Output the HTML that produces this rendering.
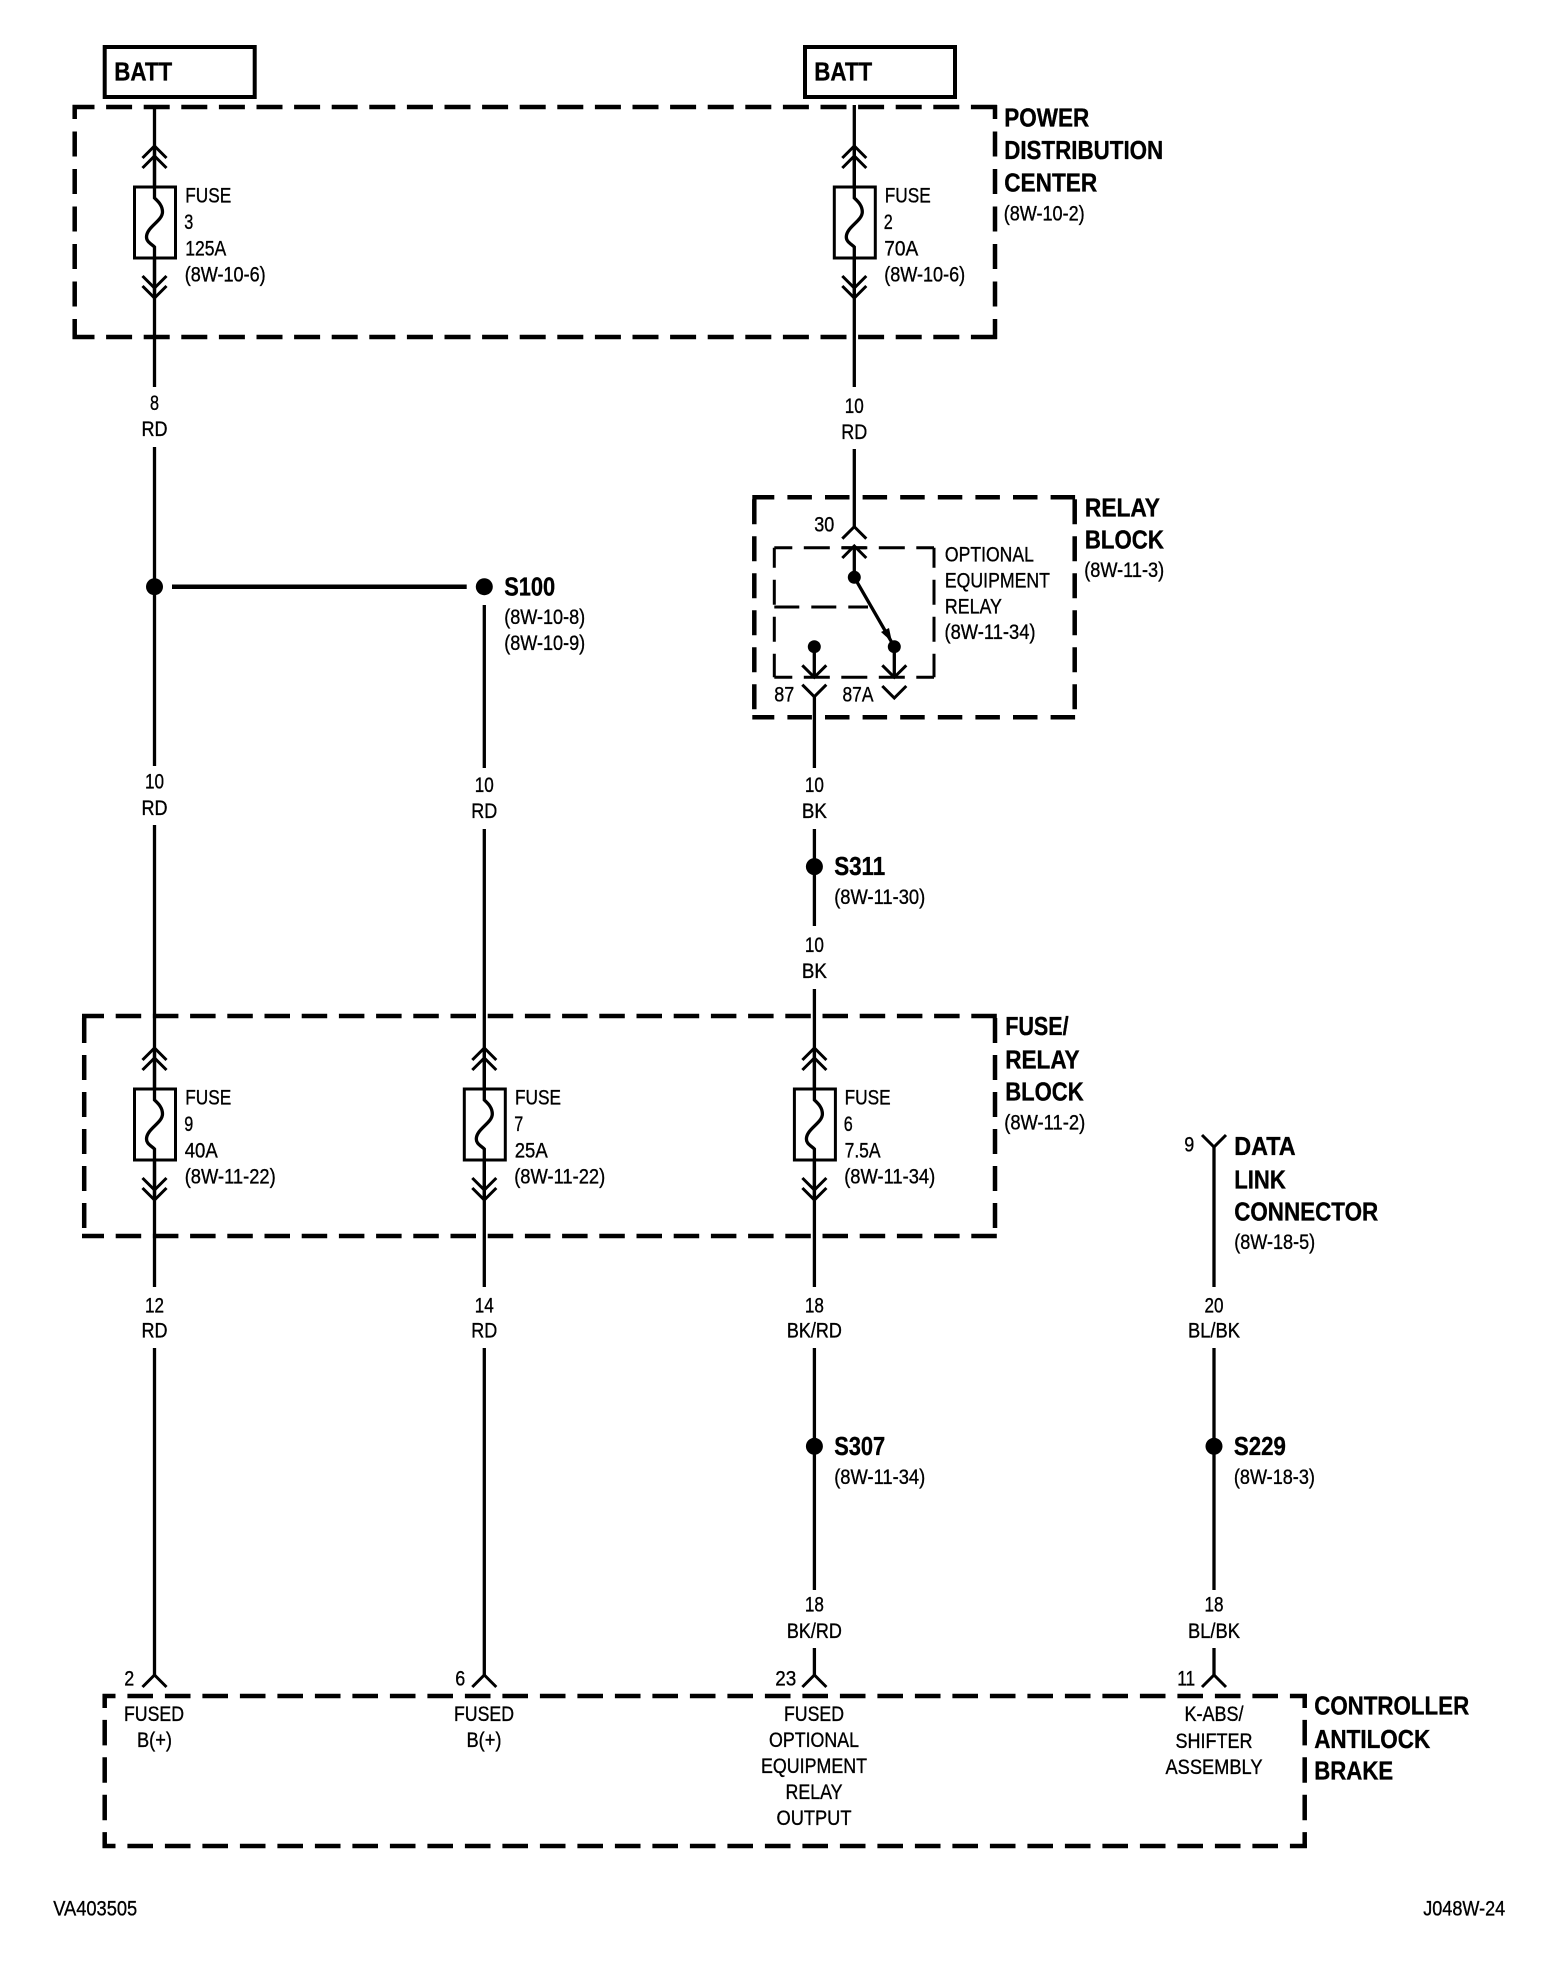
<!DOCTYPE html>
<html><head><meta charset="utf-8"><style>
html,body{margin:0;padding:0;background:#fff}
svg{display:block}
text{font-family:"Liberation Sans",sans-serif;fill:#000;font-size:21px;stroke:#000;stroke-width:.35px;transform:translate(-.8px,-1px)}
.b{font-weight:bold;font-size:26px}
.c{text-anchor:middle;transform:translate(0,-.8px)}
.w{stroke:#000;stroke-width:3.3;fill:none}
.t{stroke:#000;stroke-width:3;fill:none}
.d{stroke:#000;stroke-width:4.5;fill:none}
.i{stroke:#000;stroke-width:3;fill:none}
</style></head><body>
<svg width="1568" height="1970" viewBox="0 0 1568 1970" xmlns="http://www.w3.org/2000/svg">
<defs>
<g id="f">
<rect x="-20" y="0" width="41" height="71" fill="#fff" stroke="#000" stroke-width="3"/>
<path class="w" d="M0 -41V11C3 14 8 18 8 25C8 34 -8 40 -8 50C-8 55 -3 57 0 60V111"/>
<path class="t" d="M-12 -29L0 -41L12 -29M-12 -19L0 -31L12 -19M-12 89L0 101L12 89M-12 99L0 111L12 99"/>
</g>
<path id="up" class="t" d="M-12 12L0 0L12 12"/>
<path id="dn" class="t" d="M-12 -12L0 0L12 -12"/>
</defs>

<!-- BATT boxes -->
<rect x="104.7" y="47" width="150" height="50" fill="#fff" stroke="#000" stroke-width="4"/>
<rect x="805" y="47" width="150" height="50" fill="#fff" stroke="#000" stroke-width="4"/>
<text class="b" x="115" y="81.7" textLength="58" lengthAdjust="spacingAndGlyphs">BATT</text>
<text class="b" x="815" y="81.7" textLength="58" lengthAdjust="spacingAndGlyphs">BATT</text>

<!-- Power distribution center box -->
<g class="d">
<path class="d" stroke-dasharray="26 11.6" stroke-dashoffset="4" d="M72.5 107H997.2"/>
<path class="d" stroke-dasharray="26 11.6" stroke-dashoffset="4" d="M72.5 337H997.2"/>
<path class="d" stroke-dasharray="25 12.5" stroke-dashoffset="11" d="M74.7 105V339"/>
<path class="d" stroke-dasharray="25 12.5" stroke-dashoffset="11" d="M995 105V339"/>
<!-- Relay block box -->
<path class="d" stroke-dasharray="24.5 13.1" stroke-dashoffset="2.5" d="M752.3 497.3H1076.7"/>
<path class="d" stroke-dasharray="24.5 13.1" stroke-dashoffset="2.5" d="M752.3 717.3H1076.7"/>
<path class="d" stroke-dasharray="25 12" stroke-dashoffset="-4" d="M754.3 495.3V719.3"/>
<path class="d" stroke-dasharray="25 12" stroke-dashoffset="-4" d="M1074.7 495.3V719.3"/>
<!-- Fuse relay block box -->
<path class="d" stroke-dasharray="25.5 11.7" stroke-dashoffset="3.5" d="M82 1016H997.2"/>
<path class="d" stroke-dasharray="25.5 11.7" stroke-dashoffset="3.5" d="M82 1236H997.2"/>
<path class="d" stroke-dasharray="25 12" stroke-dashoffset="-4" d="M84.2 1014V1238"/>
<path class="d" stroke-dasharray="25 12" stroke-dashoffset="-4" d="M995 1014V1238"/>
<!-- Controller box -->
<path class="d" stroke-dasharray="25.6 11.9" stroke-dashoffset="12.6" d="M102.5 1696H1306.9"/>
<path class="d" stroke-dasharray="25.6 11.9" stroke-dashoffset="12.6" d="M102.5 1846H1306.9"/>
<path class="d" stroke-dasharray="25.5 11.9" stroke-dashoffset="11.5" d="M104.7 1694V1848"/>
<path class="d" stroke-dasharray="25.5 11.9" stroke-dashoffset="11.5" d="M1304.7 1694V1848"/>
</g>

<!-- Inner relay dashed box -->
<path class="i" stroke-dasharray="26 11.5" stroke-dashoffset="8" d="M774.3 547.7H934"/>
<path class="i" stroke-dasharray="26 11.5" stroke-dashoffset="8" d="M774.3 677.3H934"/>
<path class="i" stroke-dasharray="25 12" stroke-dashoffset="5" d="M774.3 547.7V677.3"/>
<path class="i" stroke-dasharray="25 12" stroke-dashoffset="5" d="M934 547.7V677.3"/>
<path class="i" stroke-dasharray="25 12" d="M774.3 607H868"/>

<!-- Wires -->
<path class="w" d="M154.5 105V387M154.5 447V766M154.5 825V1287M154.5 1348V1675"/>
<path class="w" d="M854.3 105V387M854.3 449V526.7"/>
<path class="w" d="M484.3 605V768M484.3 829V1287M484.3 1348V1675"/>
<path class="w" d="M814.4 696.7V768M814.4 829V926M814.4 989V1287M814.4 1348V1590M814.4 1648V1675"/>
<path class="w" d="M1214 1147V1287M1214 1348V1590M1214 1648V1675"/>
<path stroke="#000" stroke-width="4.5" d="M172 586.7H466.7"/>
<path class="w" d="M854.3 546V577.3"/>

<!-- Fuses -->
<use href="#f" x="154.5" y="187"/>
<use href="#f" x="854.3" y="187"/>
<use href="#f" x="154.5" y="1089"/>
<use href="#f" x="484.3" y="1089"/>
<use href="#f" x="814.4" y="1089"/>

<!-- Splice nodes -->
<circle cx="154.5" cy="586.7" r="8.5"/>
<circle cx="484.3" cy="586.7" r="8.5"/>
<circle cx="814.4" cy="866.6" r="8.5"/>
<circle cx="814.4" cy="1446.3" r="8.5"/>
<circle cx="1214" cy="1446.3" r="8.5"/>

<!-- Relay internals -->
<use href="#up" x="854.3" y="526.7"/>
<use href="#up" x="854.3" y="546"/>
<path class="t" d="M842 547.7H866"/>
<circle cx="854.3" cy="577.3" r="6.5"/>
<circle cx="814.3" cy="646.7" r="6.5"/>
<circle cx="894.3" cy="646.7" r="6.5"/>
<path class="w" d="M854.3 577.3L894.3 646.7M814.3 646.7V677M894.3 646.7V677"/>
<path d="M881 632L889 628L892 642Z"/>
<use href="#dn" x="814.3" y="677.3"/>
<use href="#dn" x="894.3" y="677.3"/>
<use href="#dn" x="814.3" y="696.7"/>
<use href="#dn" x="894.3" y="698"/>

<!-- Data link and bottom connectors -->
<use href="#dn" x="1214" y="1147"/>
<use href="#up" x="154.5" y="1675"/>
<use href="#up" x="484.3" y="1675"/>
<use href="#up" x="814.4" y="1675"/>
<use href="#up" x="1214" y="1675"/>

<!-- Fuse labels -->
<text x="186" y="203.5" textLength="46" lengthAdjust="spacingAndGlyphs">FUSE</text>
<text x="185" y="229.9" textLength="9" lengthAdjust="spacingAndGlyphs">3</text>
<text x="186" y="256.3" textLength="41" lengthAdjust="spacingAndGlyphs">125A</text>
<text x="185.5" y="282.7" textLength="81" lengthAdjust="spacingAndGlyphs">(8W-10-6)</text>
<text x="885.5" y="203.5" textLength="46" lengthAdjust="spacingAndGlyphs">FUSE</text>
<text x="884.5" y="229.9" textLength="9" lengthAdjust="spacingAndGlyphs">2</text>
<text x="885" y="256.3" textLength="34" lengthAdjust="spacingAndGlyphs">70A</text>
<text x="885" y="282.7" textLength="81" lengthAdjust="spacingAndGlyphs">(8W-10-6)</text>

<text x="186" y="1105.5" textLength="46" lengthAdjust="spacingAndGlyphs">FUSE</text>
<text x="185" y="1131.9" textLength="9" lengthAdjust="spacingAndGlyphs">9</text>
<text x="185.5" y="1158.3" textLength="33" lengthAdjust="spacingAndGlyphs">40A</text>
<text x="185.5" y="1184.7" textLength="91" lengthAdjust="spacingAndGlyphs">(8W-11-22)</text>
<text x="515.8" y="1105.5" textLength="46" lengthAdjust="spacingAndGlyphs">FUSE</text>
<text x="515" y="1131.9" textLength="9" lengthAdjust="spacingAndGlyphs">7</text>
<text x="515.5" y="1158.3" textLength="33" lengthAdjust="spacingAndGlyphs">25A</text>
<text x="515" y="1184.7" textLength="91" lengthAdjust="spacingAndGlyphs">(8W-11-22)</text>
<text x="845.4" y="1105.5" textLength="46" lengthAdjust="spacingAndGlyphs">FUSE</text>
<text x="844.5" y="1131.9" textLength="9" lengthAdjust="spacingAndGlyphs">6</text>
<text x="845.4" y="1158.3" textLength="36" lengthAdjust="spacingAndGlyphs">7.5A</text>
<text x="845" y="1184.7" textLength="91" lengthAdjust="spacingAndGlyphs">(8W-11-34)</text>

<!-- Wire labels -->
<text class="c" x="154.5" y="411" textLength="9" lengthAdjust="spacingAndGlyphs">8</text>
<text class="c" x="154.5" y="436.7" textLength="26" lengthAdjust="spacingAndGlyphs">RD</text>
<text class="c" x="854.3" y="413.7" textLength="19" lengthAdjust="spacingAndGlyphs">10</text>
<text class="c" x="854.3" y="440" textLength="26" lengthAdjust="spacingAndGlyphs">RD</text>
<text class="c" x="154.5" y="789.5" textLength="19" lengthAdjust="spacingAndGlyphs">10</text>
<text class="c" x="154.5" y="816" textLength="26" lengthAdjust="spacingAndGlyphs">RD</text>
<text class="c" x="484.3" y="793" textLength="19" lengthAdjust="spacingAndGlyphs">10</text>
<text class="c" x="484.3" y="819" textLength="26" lengthAdjust="spacingAndGlyphs">RD</text>
<text class="c" x="814.4" y="793" textLength="19" lengthAdjust="spacingAndGlyphs">10</text>
<text class="c" x="814.4" y="819" textLength="25" lengthAdjust="spacingAndGlyphs">BK</text>
<text class="c" x="814.4" y="953" textLength="19" lengthAdjust="spacingAndGlyphs">10</text>
<text class="c" x="814.4" y="979" textLength="25" lengthAdjust="spacingAndGlyphs">BK</text>
<text class="c" x="154.5" y="1313.3" textLength="19" lengthAdjust="spacingAndGlyphs">12</text>
<text class="c" x="154.5" y="1338.5" textLength="26" lengthAdjust="spacingAndGlyphs">RD</text>
<text class="c" x="484.3" y="1313.3" textLength="19" lengthAdjust="spacingAndGlyphs">14</text>
<text class="c" x="484.3" y="1338.5" textLength="26" lengthAdjust="spacingAndGlyphs">RD</text>
<text class="c" x="814.4" y="1313.3" textLength="19" lengthAdjust="spacingAndGlyphs">18</text>
<text class="c" x="814.4" y="1338.5" textLength="55" lengthAdjust="spacingAndGlyphs">BK/RD</text>
<text class="c" x="1214" y="1313.3" textLength="19" lengthAdjust="spacingAndGlyphs">20</text>
<text class="c" x="1214" y="1338.5" textLength="52" lengthAdjust="spacingAndGlyphs">BL/BK</text>
<text class="c" x="814.4" y="1612.3" textLength="19" lengthAdjust="spacingAndGlyphs">18</text>
<text class="c" x="814.4" y="1638.6" textLength="55" lengthAdjust="spacingAndGlyphs">BK/RD</text>
<text class="c" x="1214" y="1612.3" textLength="19" lengthAdjust="spacingAndGlyphs">18</text>
<text class="c" x="1214" y="1638.6" textLength="52" lengthAdjust="spacingAndGlyphs">BL/BK</text>

<!-- Section titles -->
<text class="b" x="1005" y="127.5" textLength="85" lengthAdjust="spacingAndGlyphs">POWER</text>
<text class="b" x="1005" y="160" textLength="159" lengthAdjust="spacingAndGlyphs">DISTRIBUTION</text>
<text class="b" x="1005" y="192.5" textLength="93" lengthAdjust="spacingAndGlyphs">CENTER</text>
<text x="1004.5" y="221.5" textLength="81" lengthAdjust="spacingAndGlyphs">(8W-10-2)</text>

<text class="b" x="1085.7" y="517.3" textLength="75" lengthAdjust="spacingAndGlyphs">RELAY</text>
<text class="b" x="1085.7" y="549.3" textLength="79" lengthAdjust="spacingAndGlyphs">BLOCK</text>
<text x="1085" y="578" textLength="80" lengthAdjust="spacingAndGlyphs">(8W-11-3)</text>

<text x="815" y="532.7" textLength="20" lengthAdjust="spacingAndGlyphs">30</text>
<text x="775" y="702.7" textLength="20" lengthAdjust="spacingAndGlyphs">87</text>
<text x="843.3" y="702.7" textLength="31" lengthAdjust="spacingAndGlyphs">87A</text>
<text x="945.7" y="562.7" textLength="89" lengthAdjust="spacingAndGlyphs">OPTIONAL</text>
<text x="945.7" y="588.3" textLength="105" lengthAdjust="spacingAndGlyphs">EQUIPMENT</text>
<text x="945.7" y="614.3" textLength="57" lengthAdjust="spacingAndGlyphs">RELAY</text>
<text x="945.3" y="640" textLength="91" lengthAdjust="spacingAndGlyphs">(8W-11-34)</text>

<text class="b" x="1006" y="1036" textLength="63.4" lengthAdjust="spacingAndGlyphs">FUSE/</text>
<text class="b" x="1006" y="1069.3" textLength="74.4" lengthAdjust="spacingAndGlyphs">RELAY</text>
<text class="b" x="1006" y="1101.7" textLength="78.5" lengthAdjust="spacingAndGlyphs">BLOCK</text>
<text x="1005" y="1130.7" textLength="81" lengthAdjust="spacingAndGlyphs">(8W-11-2)</text>

<text x="1185" y="1152.7" textLength="10" lengthAdjust="spacingAndGlyphs">9</text>
<text class="b" x="1235" y="1156" textLength="61.4" lengthAdjust="spacingAndGlyphs">DATA</text>
<text class="b" x="1235" y="1189.3" textLength="51.6" lengthAdjust="spacingAndGlyphs">LINK</text>
<text class="b" x="1235" y="1221.7" textLength="144" lengthAdjust="spacingAndGlyphs">CONNECTOR</text>
<text x="1235" y="1250" textLength="81" lengthAdjust="spacingAndGlyphs">(8W-18-5)</text>

<!-- Splice labels -->
<text class="b" x="505" y="596.7" textLength="51" lengthAdjust="spacingAndGlyphs">S100</text>
<text x="505" y="625" textLength="81" lengthAdjust="spacingAndGlyphs">(8W-10-8)</text>
<text x="505" y="651" textLength="81" lengthAdjust="spacingAndGlyphs">(8W-10-9)</text>
<text class="b" x="835" y="876" textLength="51" lengthAdjust="spacingAndGlyphs">S311</text>
<text x="835" y="905" textLength="91" lengthAdjust="spacingAndGlyphs">(8W-11-30)</text>
<text class="b" x="835" y="1456" textLength="51" lengthAdjust="spacingAndGlyphs">S307</text>
<text x="835" y="1485" textLength="91" lengthAdjust="spacingAndGlyphs">(8W-11-34)</text>
<text class="b" x="1234.7" y="1456" textLength="52" lengthAdjust="spacingAndGlyphs">S229</text>
<text x="1234.7" y="1485" textLength="81" lengthAdjust="spacingAndGlyphs">(8W-18-3)</text>

<!-- Pin numbers -->
<text x="125" y="1686.7" textLength="10" lengthAdjust="spacingAndGlyphs">2</text>
<text x="456" y="1686.7" textLength="10" lengthAdjust="spacingAndGlyphs">6</text>
<text x="776" y="1686.7" textLength="21" lengthAdjust="spacingAndGlyphs">23</text>
<text x="1178" y="1686.7" textLength="18" lengthAdjust="spacingAndGlyphs">11</text>

<!-- Controller labels -->
<text class="c" x="154" y="1722" textLength="60" lengthAdjust="spacingAndGlyphs">FUSED</text>
<text class="c" x="154.5" y="1748" textLength="35" lengthAdjust="spacingAndGlyphs">B(+)</text>
<text class="c" x="484" y="1722" textLength="60" lengthAdjust="spacingAndGlyphs">FUSED</text>
<text class="c" x="484" y="1748" textLength="35" lengthAdjust="spacingAndGlyphs">B(+)</text>
<text class="c" x="814" y="1722" textLength="60" lengthAdjust="spacingAndGlyphs">FUSED</text>
<text class="c" x="814" y="1748" textLength="90" lengthAdjust="spacingAndGlyphs">OPTIONAL</text>
<text class="c" x="814" y="1774" textLength="106" lengthAdjust="spacingAndGlyphs">EQUIPMENT</text>
<text class="c" x="814" y="1800" textLength="57" lengthAdjust="spacingAndGlyphs">RELAY</text>
<text class="c" x="814" y="1826" textLength="75" lengthAdjust="spacingAndGlyphs">OUTPUT</text>
<text class="c" x="1214" y="1722" textLength="59" lengthAdjust="spacingAndGlyphs">K-ABS/</text>
<text class="c" x="1214" y="1748.7" textLength="77" lengthAdjust="spacingAndGlyphs">SHIFTER</text>
<text class="c" x="1214" y="1775" textLength="97" lengthAdjust="spacingAndGlyphs">ASSEMBLY</text>

<text class="b" x="1315" y="1715.7" textLength="155" lengthAdjust="spacingAndGlyphs">CONTROLLER</text>
<text class="b" x="1315" y="1749" textLength="116" lengthAdjust="spacingAndGlyphs">ANTILOCK</text>
<text class="b" x="1315" y="1780.7" textLength="79" lengthAdjust="spacingAndGlyphs">BRAKE</text>

<text x="54" y="1916.7" textLength="84" lengthAdjust="spacingAndGlyphs">VA403505</text>
<text x="1424" y="1916.7" textLength="82" lengthAdjust="spacingAndGlyphs">J048W-24</text>
</svg>
</body></html>
